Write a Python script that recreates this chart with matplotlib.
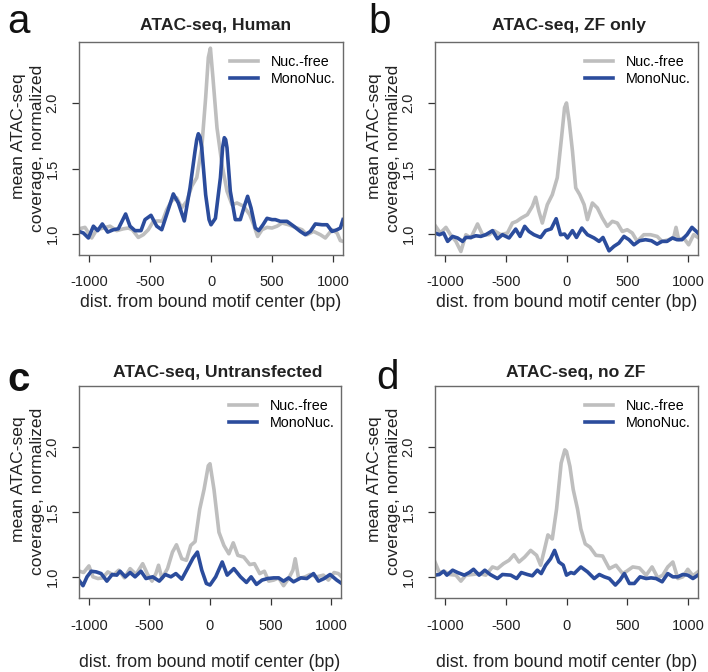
import matplotlib
matplotlib.use("Agg")
import matplotlib.pyplot as plt

plt.rcParams['font.family'] = ['Liberation Sans', 'DejaVu Sans']
plt.rcParams['axes.unicode_minus'] = False

GRAY = '#bebebe'
BLUE = '#2b4c9c'

titles = ['ATAC-seq, Human', 'ATAC-seq, ZF only', 'ATAC-seq, Untransfected', 'ATAC-seq, no ZF']
letters = ['a', 'b', 'c', 'd']
series_names = ['Nuc.-free', 'MonoNuc.']
xticks = [-1000, -500, 0, 500, 1000]
yticks = [1.0, 1.5, 2.0]

# panel a
a_free_x = [-1082, -1033, -978, -937, -882, -828, -773, -719, -678, -645, -596, -555, -514, -473, -432, -399,
            -363, -322, -281, -240, -199, -158, -117, -76, -44, -22, -5, 16, 49, 90, 131, 172, 213, 268, 317,
            350, 382, 418, 459, 500, 541, 582, 636, 691, 746, 787, 841, 896, 937, 992, 1033, 1060, 1082]
a_free_y = [1.04, 1.051, 0.97, 1.033, 1.046, 1.06, 1.026, 1.04, 1.046, 1.033, 0.974, 0.995, 1.033, 1.097, 1.10,
            1.097, 1.186, 1.255, 1.276, 1.20, 1.25, 1.365, 1.43, 1.66, 2.04, 2.347, 2.418, 2.19, 1.81, 1.53,
            1.327, 1.224, 1.237, 1.212, 1.148, 1.071, 0.982, 1.033, 1.051, 1.046, 1.06, 1.084, 1.071, 1.051,
            1.033, 0.995, 1.02, 0.995, 0.97, 1.033, 1.008, 0.95, 0.944]
a_mono_x = [-1082, -1046, -1005, -964, -929, -891, -847, -800, -760, -700, -664, -623, -574, -541, -492, -445,
            -404, -355, -309, -268, -219, -172, -131, -117, -104, -90, -76, -44, -16, 0, 36, 77, 95, 109, 120,
            131, 158, 199, 240, 273, 300, 328, 363, 391, 426, 459, 500, 527, 568, 623, 678, 732, 773, 814, 855,
            910, 951, 992, 1033, 1060, 1082]
a_mono_y = [1.02, 1.008, 0.97, 1.06, 1.026, 1.077, 1.015, 1.033, 1.04, 1.153, 1.06, 1.026, 1.026, 1.11, 1.143,
            1.06, 1.033, 1.173, 1.306, 1.237, 1.10, 1.352, 1.633, 1.72, 1.765, 1.74, 1.658, 1.30, 1.11, 1.071,
            1.12, 1.43, 1.66, 1.735, 1.72, 1.658, 1.327, 1.11, 1.11, 1.212, 1.288, 1.199, 1.046, 1.026, 1.071,
            1.12, 1.11, 1.11, 1.097, 1.097, 1.06, 1.02, 0.995, 1.02, 1.077, 1.071, 1.071, 1.02, 1.033, 1.046, 1.11]

# panel b
b_free_x = [-1082, -1038, -992, -951, -910, -869, -828, -787, -732, -691, -637, -596, -541, -486, -445, -410,
            -372, -322, -281, -254, -227, -199, -158, -117, -76, -41, -16, 0, 22, 49, 76, 109, 145, 172, 213,
            254, 295, 336, 377, 418, 459, 500, 541, 582, 636, 691, 746, 786, 841, 882, 901, 923, 964, 1005,
            1046, 1082]
b_free_y = [1.066, 1.008, 1.051, 0.99, 0.944, 0.867, 0.995, 0.97, 1.077, 0.995, 0.995, 1.026, 0.995, 1.008,
            1.084, 1.097, 1.122, 1.148, 1.212, 1.281, 1.173, 1.084, 1.224, 1.30, 1.43, 1.735, 1.964, 2.0, 1.86,
            1.633, 1.352, 1.30, 1.224, 1.11, 1.237, 1.199, 1.122, 1.059, 1.097, 1.084, 1.02, 1.033, 1.008,
            0.944, 0.995, 0.995, 0.982, 0.944, 0.957, 0.974, 1.051, 0.957, 0.97, 0.918, 0.995, 0.974]
b_mono_x = [-1082, -1046, -1011, -978, -937, -896, -855, -828, -787, -746, -705, -664, -609, -568, -527, -473,
            -418, -382, -344, -309, -268, -213, -172, -126, -85, -49, -16, 8, 49, 82, 126, 172, 227, 268, 300,
            350, 390, 431, 473, 514, 555, 601, 650, 699, 745, 786, 827, 871, 909, 950, 991, 1032, 1082]
b_mono_y = [1.008, 0.995, 1.008, 0.944, 0.982, 0.97, 0.944, 0.974, 0.974, 0.987, 0.982, 0.995, 1.026, 0.964,
            0.995, 0.97, 1.038, 0.982, 1.059, 1.02, 0.995, 0.974, 1.026, 1.04, 1.117, 0.995, 1.0, 0.97, 1.026,
            0.974, 1.046, 0.995, 0.97, 0.944, 0.974, 0.872, 0.906, 0.931, 0.982, 0.957, 0.918, 0.949, 0.957,
            0.949, 0.923, 0.944, 0.944, 0.97, 0.957, 0.957, 0.995, 1.051, 1.008]

# panel c
c_free_x = [-1077, -1044, -1000, -967, -926, -885, -844, -797, -754, -707, -660, -611, -556, -515, -479, -447,
            -425, -397, -351, -310, -277, -233, -195, -159, -123, -85, -49, -14, 0, 33, 74, 115, 156, 192, 230,
            279, 329, 367, 411, 449, 485, 526, 567, 608, 649, 685, 704, 732, 786, 827, 882, 937, 978, 1025,
            1060, 1088]
c_free_y = [1.043, 1.033, 1.084, 1.0, 0.987, 0.992, 1.038, 1.013, 1.051, 0.992, 1.063, 1.018, 1.101, 1.018,
            0.967, 1.025, 1.089, 0.987, 1.063, 1.19, 1.246, 1.139, 1.127, 1.241, 1.271, 1.519, 1.671, 1.853,
            1.868, 1.671, 1.342, 1.241, 1.177, 1.261, 1.165, 1.152, 1.094, 1.101, 1.025, 1.043, 0.967, 0.975,
            0.992, 0.932, 0.987, 1.051, 1.139, 0.987, 1.0, 1.018, 1.0, 1.013, 0.975, 1.033, 1.025, 1.0]
c_mono_x = [-1077, -1049, -1016, -981, -940, -899, -852, -808, -770, -743, -699, -660, -619, -570, -529, -474,
            -419, -370, -323, -282, -233, -186, -140, -104, -68, -30, 0, 47, 101, 142, 197, 252, 301, 340, 384,
            430, 477, 526, 567, 608, 649, 690, 751, 800, 855, 896, 943, 992, 1047, 1088]
c_mono_y = [0.967, 0.932, 1.0, 1.043, 1.038, 1.025, 0.967, 1.018, 1.013, 1.043, 1.0, 1.033, 1.0, 1.043, 0.987,
            1.0, 0.967, 1.018, 1.0, 1.025, 0.982, 1.063, 1.144, 1.19, 1.051, 0.949, 0.937, 1.0, 1.114, 1.013,
            1.063, 1.0, 0.957, 1.0, 0.942, 0.975, 0.987, 0.992, 0.992, 0.967, 0.992, 0.962, 0.992, 0.987, 1.025,
            0.967, 0.987, 1.018, 0.975, 0.949]

# panel d
d_free_x = [-1082, -1046, -1005, -964, -910, -869, -828, -773, -719, -664, -609, -568, -519, -473, -432, -391,
            -344, -295, -246, -213, -180, -153, -117, -82, -44, -14, 0, 28, 55, 91, 118, 154, 193, 242, 297,
            352, 407, 462, 495, 545, 600, 655, 704, 751, 792, 833, 875, 916, 957, 998, 1040, 1081]
d_free_y = [1.114, 1.033, 1.043, 1.018, 1.013, 0.967, 1.013, 1.018, 1.025, 1.013, 1.076, 1.063, 1.101, 1.127,
            1.170, 1.114, 1.152, 1.203, 1.165, 1.089, 1.215, 1.322, 1.291, 1.519, 1.873, 1.975, 1.962, 1.848,
            1.671, 1.519, 1.367, 1.253, 1.228, 1.165, 1.16, 1.063, 1.089, 1.025, 1.043, 1.076, 1.068, 1.013,
            1.076, 0.992, 1.013, 1.076, 1.114, 0.987, 1.0, 1.058, 1.008, 1.038]
d_mono_x = [-1082, -1046, -1011, -984, -937, -896, -841, -800, -765, -719, -672, -628, -568, -527, -459, -410,
            -372, -322, -281, -240, -208, -172, -131, -98, -63, -27, 0, 36, 63, 118, 173, 228, 270, 311, 352,
            402, 440, 476, 517, 558, 605, 655, 696, 737, 787, 833, 875, 916, 957, 998, 1040, 1081]
d_mono_y = [1.013, 1.018, 1.043, 1.013, 1.051, 1.033, 1.013, 1.033, 1.058, 1.013, 1.051, 1.018, 0.987, 1.018,
            1.013, 0.987, 1.033, 1.018, 1.008, 1.051, 1.025, 1.089, 1.139, 1.203, 1.114, 1.09, 1.013, 1.033,
            1.025, 1.076, 1.038, 0.987, 1.018, 1.0, 0.987, 0.937, 0.975, 1.025, 0.949, 0.949, 1.0, 0.987, 0.992,
            0.987, 0.962, 1.025, 1.0, 1.0, 1.018, 1.013, 0.987, 1.013]

panels = [
    (a_free_x, a_free_y, a_mono_x, a_mono_y),
    (b_free_x, b_free_y, b_mono_x, b_mono_y),
    (c_free_x, c_free_y, c_mono_x, c_mono_y),
    (d_free_x, d_free_y, d_mono_x, d_mono_y),
]

# layout (figure fractions)
rects = [
    [0.1116, 0.6205, 0.3729, 0.3170],
    [0.6144, 0.6205, 0.3715, 0.3170],
    [0.1116, 0.1106, 0.3700, 0.3150],
    [0.6144, 0.1106, 0.3715, 0.3150],
]
title_x = [0.519, 0.511, 0.528, 0.535]
title_y = [1.078, 1.078, 1.063, 1.063]
xlab_y = [-0.221, -0.221, -0.307, -0.307]
tick_pad = [9.5, 9.5, 10.5, 10.5]
letter_pos = [(0.010, 1 - 33 / 672), (0.521, 1 - 33 / 672), (0.011, 1 - 391 / 672), (0.531, 1 - 389 / 672)]
letter_weight = ['normal', 'normal', 'bold', 'normal']

fig = plt.figure(figsize=(7.08, 6.72), dpi=100)

for i, (fx, fy, mx, my) in enumerate(panels):
    ax = fig.add_axes(rects[i])
    ax.plot(fx, fy, color=GRAY, lw=2.6, label=series_names[0], solid_joinstyle='round')
    ax.plot(mx, my, color=BLUE, lw=2.6, label=series_names[1], solid_joinstyle='round')
    ax.set_xlim(-1082, 1082)
    ax.set_ylim(0.84, 2.465)
    ax.set_xticks(xticks)
    ax.set_xticklabels([str(t) for t in xticks])
    ax.set_yticks(yticks)
    ax.set_yticklabels(['%.1f' % t for t in yticks])
    for s in ax.spines.values():
        s.set_color('#6a6a6a')
        s.set_linewidth(1.0)
    ax.tick_params(axis='both', length=5, width=0.9, color='#333333', labelcolor='#222222', labelsize=10.5)
    ax.tick_params(axis='x', pad=tick_pad[i])
    ax.tick_params(axis='y', pad=9, labelrotation=90)
    for lab in ax.get_yticklabels():
        lab.set_va('center')

    ax.text(title_x[i], title_y[i], titles[i], transform=ax.transAxes, ha='center', va='center',
            fontsize=12.6, fontweight='bold', color='#222222')
    ax.text(0.5, xlab_y[i], 'dist. from bound motif center (bp)', transform=ax.transAxes,
            ha='center', va='center', fontsize=12.8, color='#222222')
    ax.text(-0.231, 0.56, 'mean ATAC-seq', transform=ax.transAxes, rotation=90,
            ha='center', va='center', fontsize=12.6, color='#222222')
    ax.text(-0.159, 0.5, 'coverage, normalized', transform=ax.transAxes, rotation=90,
            ha='center', va='center', fontsize=12.6, color='#222222')

    ax.legend(loc='upper left', bbox_to_anchor=(0.572, 0.937), frameon=False, fontsize=10.3,
              handlelength=1.95, handletextpad=0.9, labelspacing=0.2, borderpad=0, borderaxespad=0)

    fig.text(letter_pos[i][0], letter_pos[i][1], letters[i], fontsize=29, fontweight=letter_weight[i],
             ha='left', va='baseline', color='#111111')

fig.savefig('out.png', dpi=100)
